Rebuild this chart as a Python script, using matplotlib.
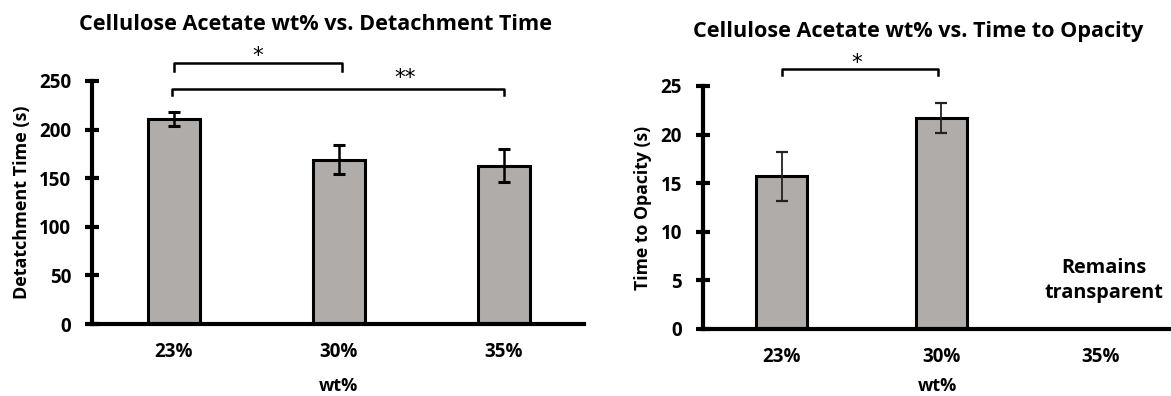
import matplotlib
matplotlib.use("Agg")
import matplotlib.pyplot as plt
import numpy as np

plt.rcParams['font.family'] = ['Open Sans', 'DejaVu Sans']
plt.rcParams['font.weight'] = 'bold'

categories = ["23%", "30%", "35%"]
detach_mean = [211, 169, 163]
detach_err = [7.5, 15, 17]
opacity_mean = [15.7, 21.7]
opacity_err = [2.5, 1.5]

bar_color = "#b0acaa"

fig = plt.figure(figsize=(11.71, 3.96), dpi=100)
ax1 = fig.add_axes([0.0786, 0.1818, 0.4201, 0.6137])
ax2 = fig.add_axes([0.6003, 0.1692, 0.3997, 0.6138])

def style(ax, ymax, step, xl, xr):
    ax.set_xlim(xl, xr)
    ax.set_ylim(0, ymax)
    ax.set_yticks(np.arange(0, ymax + 0.001, step))
    for s in ['top', 'right']:
        ax.spines[s].set_visible(False)
    ax.spines['left'].set_linewidth(3)
    ax.spines['bottom'].set_linewidth(3)
    ax.tick_params(axis='y', direction='inout', length=10, width=3, labelsize=13.5, pad=10)
    ax.tick_params(axis='x', length=0, labelsize=13.5, pad=13)
    ax.set_xticks(range(3))
    ax.set_xticklabels(categories, fontweight='bold')
    for lab in ax.get_yticklabels():
        lab.set_fontweight('bold')

x = np.arange(3)
ax1.bar(x, detach_mean, width=0.315, color=bar_color, edgecolor='black', linewidth=2.2, zorder=2)
ax1.errorbar(x, detach_mean, yerr=detach_err, fmt='none', ecolor='black', elinewidth=1.8, capsize=4, capthick=2.2, zorder=3)
style(ax1, 250, 50, -0.497, 2.485)
ax1.set_ylabel("Detatchment Time (s)", fontsize=13, fontweight='bold', labelpad=6)
ax1.set_xlabel("wt%", fontsize=13, fontweight='bold', labelpad=11)
ax1.set_title("Cellulose Acetate wt% vs. Detachment Time", fontsize=15.6, fontweight='bold', pad=37, x=0.455)

def bracket(ax, x0, x1, y, y_end, lw):
    ax.plot([x0, x0, x1, x1], [y_end, y, y, y_end], color='black', lw=lw, clip_on=False)

def star(ax, xs, ys, text):
    ax.text(xs, ys, text, ha='center', va='center', fontsize=15.5, fontweight='normal',
            family=['DejaVu Sans'], clip_on=False)

bracket(ax1, 0.0, 1.02, 268.5, 260, 1.8)
bracket(ax1, -0.01, 2.0, 241.8, 235.6, 1.8)
star(ax1, 0.51, 276, "*")
star(ax1, 1.4, 253, "**")

x2 = np.arange(2)
ax2.bar(x2, opacity_mean, width=0.32, color=bar_color, edgecolor='black', linewidth=2.2, zorder=2)
ax2.errorbar(x2, opacity_mean, yerr=opacity_err, fmt='none', ecolor='#222222', elinewidth=1.3, capsize=4, capthick=1.6, zorder=3)
style(ax2, 25, 5, -0.495, 2.44)
ax2.set_ylabel("Time to Opacity (s)", fontsize=12.7, fontweight='bold', labelpad=6)
ax2.set_xlabel("wt%", fontsize=13, fontweight='bold', labelpad=7)
ax2.set_title("Cellulose Acetate wt% vs. Time to Opacity", fontsize=15.6, fontweight='bold', pad=35, x=0.459)
bracket(ax2, 0.0, 0.98, 26.75, 26.1, 1.8)
star(ax2, 0.47, 27.4, "*")
ax2.text(2.02, 5.0, "Remains\ntransparent", ha='center', va='center', fontsize=14.3, fontweight='bold', linespacing=1.3)

fig.savefig("out.png", dpi=100)
